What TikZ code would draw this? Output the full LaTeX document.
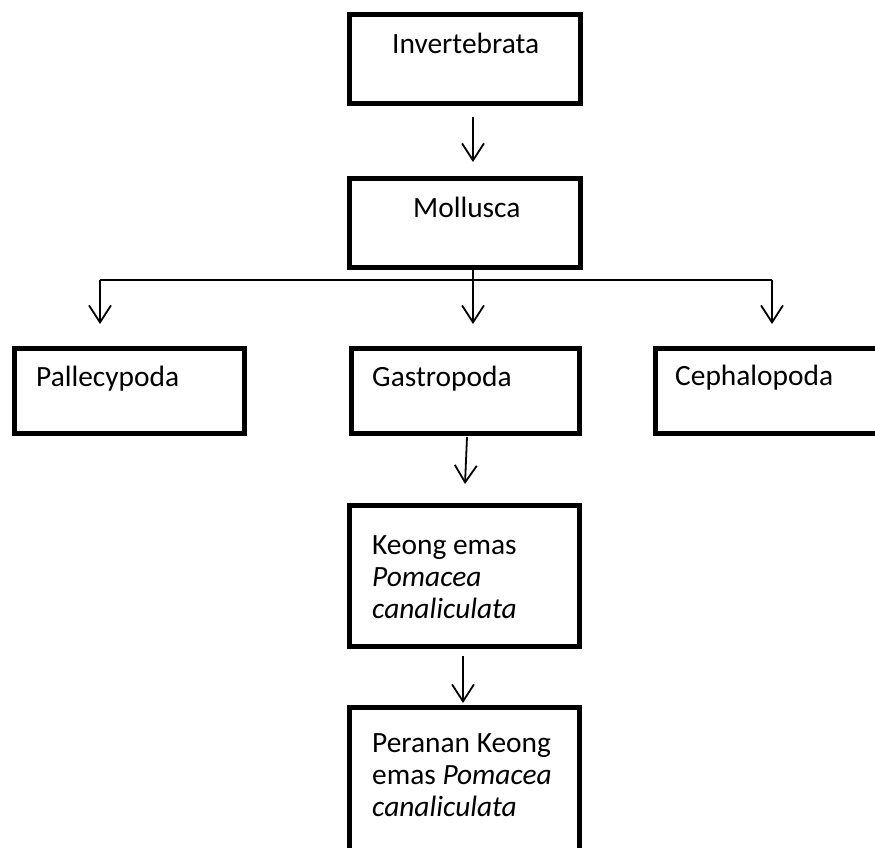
\documentclass[tikz,border=0pt]{standalone}
\usepackage{fontspec}
\setmainfont{Carlito}
\usetikzlibrary{arrows.meta}
\begin{document}
\begin{tikzpicture}[x=1pt,y=-1pt,
  box/.style={draw=black,line width=4.5pt,rectangle,inner sep=0pt,fill=white},
  lbl/.style={anchor=base west,inner sep=0pt,font=\fontsize{29.4}{32}\selectfont},
  conn/.style={line width=1.8pt,black},
  arr/.style={conn,-{Straight Barb[length=17pt,width=22pt,line width=1.8pt]}}]
\useasboundingbox (0,0) rectangle (875,848);
% boxes
\node[box,minimum width=231pt,minimum height=89pt] (inv) at (465,59) {};
\node[box,minimum width=231pt,minimum height=89pt] (moll) at (465,223) {};
\node[box,minimum width=230pt,minimum height=85pt] (pall) at (129.5,391) {};
\node[box,minimum width=228pt,minimum height=85pt] (gast) at (465.5,391) {};
\node[box,minimum width=240pt,minimum height=85pt] (ceph) at (775.5,391) {};
\node[box,minimum width=230pt,minimum height=141pt] (keong) at (464.5,576) {};
\node[box,minimum width=230pt,minimum height=150pt] (peran) at (464.5,782.5) {};
% texts
\node[lbl] (tinv) at (392,54) {Invertebrata};
\node[lbl] (tmoll) at (413,217) {Mollusca};
\node[lbl] (tpall) at (36,386) {Pallecypoda};
\node[lbl] (tgast) at (372,386) {Gastropoda};
\node[lbl] (tceph) at (675,385) {Cephalopoda};
\node[lbl] (tk1) at (372,554) {Keong emas};
\node[lbl] (tk2) at (372,586) {\itshape Pomacea};
\node[lbl] (tk3) at (372,618) {\itshape canaliculata};
\node[lbl] (tp1) at (372,752) {Peranan Keong};
\node[lbl] (tp2) at (372,784) {emas \itshape Pomacea};
\node[lbl] (tp3) at (372,816) {\itshape canaliculata};
% connector points
\coordinate (a1s) at (473,117);
\coordinate (a1e) at (473,162);
\coordinate (hl) at (100,280);
\coordinate (hr) at (772,280);
\coordinate (tl) at (100,324);
\coordinate (tm) at (473,324);
\coordinate (tr) at (772,324);
\coordinate (g1) at (467,437);
\coordinate (g2) at (465,484);
\coordinate (k1) at (463,656);
\coordinate (k2) at (463,703);
% connectors
\draw[arr] (a1s) -- (a1e);
\draw[conn] (hl) -- (hr);
\draw[arr] (hl) -- (tl);
\draw[arr] (hr) -- (tr);
\draw[arr] (moll.south -| tm) -- (tm);
\draw[arr] (g1) -- (g2);
\draw[arr] (k1) -- (k2);
\end{tikzpicture}
\end{document}
